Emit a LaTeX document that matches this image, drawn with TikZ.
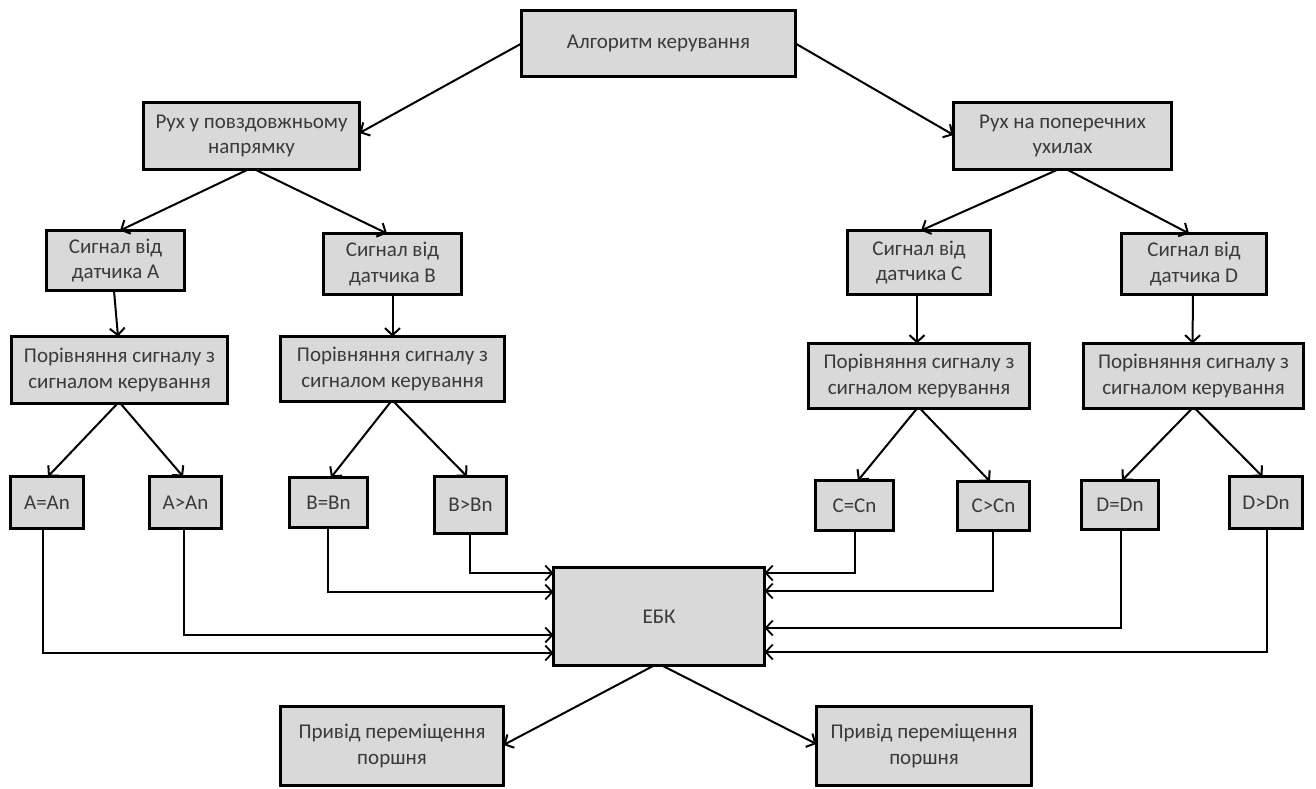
\documentclass[tikz,border=0pt]{standalone}
\usepackage{fontspec}
\setmainfont{Carlito}
\usetikzlibrary{arrows.meta}
\definecolor{boxfill}{HTML}{D9D9D9}
\definecolor{inkgray}{HTML}{3A3A3A}
\begin{document}
\begin{tikzpicture}[x=1pt,y=-1pt,
  box/.style={draw=black, fill=boxfill, line width=3.4pt, align=center,
    inner sep=0pt, outer sep=0pt, text=inkgray,
    font=\fontsize{21}{25.5}\selectfont},
  link/.style={line width=2pt, -{Straight Barb[length=7pt,width=15pt,line width=2pt]}},
  elbow/.style={line width=1.8pt, -{Straight Barb[length=7pt,width=15pt,line width=1.8pt]}}
]
\useasboundingbox (0,0) rectangle (1316,789);

% top level
\node[box, minimum width=274, minimum height=66] (top) at (658.5,43.5) {Алгоритм керування};

% two directions of motion
\node[box, minimum width=216, minimum height=67] (rl) at (251.5,136) {Рух у повздовжньому\\напрямку};
\node[box, minimum width=218, minimum height=67] (rr) at (1062.5,136) {Рух на поперечних\\ухилах};

% sensor signals
\node[box, minimum width=138, minimum height=60] (sa) at (115.5,260.5) {Сигнал від\\датчика A};
\node[box, minimum width=138, minimum height=61] (sb) at (392.5,264) {Сигнал від\\датчика B};
\node[box, minimum width=143, minimum height=64] (sc) at (919,262.5) {Сигнал від\\датчика C};
\node[box, minimum width=145, minimum height=61] (sd) at (1194,264) {Сигнал від\\датчика D};

% comparison blocks
\node[box, minimum width=216, minimum height=67] (ca) at (119.5,370) {Порівняння сигналу з\\сигналом керування};
\node[box, minimum width=224, minimum height=65] (cb) at (392.5,369) {Порівняння сигналу з\\сигналом керування};
\node[box, minimum width=221, minimum height=65] (cc) at (919,376) {Порівняння сигналу з\\сигналом керування};
\node[box, minimum width=220, minimum height=65] (cd) at (1193.5,376) {Порівняння сигналу з\\сигналом керування};

% comparison outcomes
\node[box, minimum width=73, minimum height=52] (a1) at (47,502.5) {A=An};
\node[box, minimum width=72, minimum height=52] (a2) at (185.5,502.5) {A>An};
\node[box, minimum width=78, minimum height=50] (b1) at (328.5,502.5) {B=Bn};
\node[box, minimum width=72, minimum height=57] (b2) at (470.5,505) {B>Bn};
\node[box, minimum width=78, minimum height=50] (c1) at (854.5,505.5) {C=Cn};
\node[box, minimum width=72, minimum height=49] (c2) at (993.5,506) {C>Cn};
\node[box, minimum width=77, minimum height=49] (d1) at (1120,505) {D=Dn};
\node[box, minimum width=73, minimum height=52] (d2) at (1266,502.5) {D>Dn};

% control unit and drives
\node[box, minimum width=211, minimum height=98] (ebk) at (659,616.5) {ЕБК};
\node[box, minimum width=223, minimum height=79] (pl) at (392,746) {Привід переміщення\\поршня};
\node[box, minimum width=215, minimum height=79] (pr) at (924,746) {Привід переміщення\\поршня};

% tree connectors
\draw[link] (top.west) -- ([yshift=3pt]rl.east);
\draw[link] (top.east) -- ([yshift=1pt]rr.west);
\draw[link] ([xshift=-3.5pt]rl.south) -- ([xshift=4.5pt]sa.north);
\draw[link] ([xshift=3.5pt]rl.south) -- ([xshift=-5.5pt]sb.north);
\draw[link] ([xshift=-4.5pt]rr.south) -- ([xshift=2pt]sc.north);
\draw[link] ([xshift=4.5pt]rr.south) -- ([xshift=-5pt]sd.north);
\draw[link] ([xshift=-1.5pt]sa.south) -- ([xshift=-1.5pt]ca.north);
\draw[link] (sb.south) -- (cb.north);
\draw[link] ([xshift=-2pt]sc.south) -- ([xshift=-2pt]cc.north);
\draw[link] ([xshift=-1pt]sd.south) -- ([xshift=-1pt]cd.north);
\draw[link] ([xshift=-2pt]ca.south) -- ([xshift=1pt]a1.north);
\draw[link] ([xshift=1pt]ca.south) -- ([xshift=-2.5pt]a2.north);
\draw[link] ([xshift=-1.5pt]cb.south) -- ([xshift=2.5pt]b1.north);
\draw[link] ([xshift=1pt]cb.south) -- ([xshift=-3.5pt]b2.north);
\draw[link] ([xshift=-2pt]cc.south) -- ([xshift=3.5pt]c1.north);
\draw[link] ([xshift=1pt]cc.south) -- ([xshift=-3.5pt]c2.north);
\draw[link] ([xshift=-1.5pt]cd.south) -- ([xshift=2pt]d1.north);
\draw[link] ([xshift=1.5pt]cd.south) -- ([xshift=-3.5pt]d2.north);

% outcome lines into the control unit
\draw[elbow] ([xshift=-4pt]a1.south) |- ([yshift=-36.5pt]ebk.west);
\draw[elbow] ([xshift=-1.5pt]a2.south) |- ([yshift=-18.5pt]ebk.west);
\draw[elbow] ([xshift=-0.5pt]b1.south) |- ([yshift=24.5pt]ebk.west);
\draw[elbow] ([xshift=-0.5pt]b2.south) |- ([yshift=43.5pt]ebk.west);
\draw[elbow] ([xshift=0.5pt]c1.south) |- ([yshift=43.5pt]ebk.east);
\draw[elbow] ([xshift=-0.5pt]c2.south) |- ([yshift=25.5pt]ebk.east);
\draw[elbow] ([xshift=1pt]d1.south) |- ([yshift=-11.5pt]ebk.east);
\draw[elbow] ([xshift=1pt]d2.south) |- ([yshift=-35.5pt]ebk.east);

% control unit to drives
\draw[link] ([xshift=-5pt]ebk.south) -- ([yshift=1pt]pl.east);
\draw[link] ([xshift=3pt]ebk.south) -- ([yshift=2pt]pr.west);
\end{tikzpicture}
\end{document}
